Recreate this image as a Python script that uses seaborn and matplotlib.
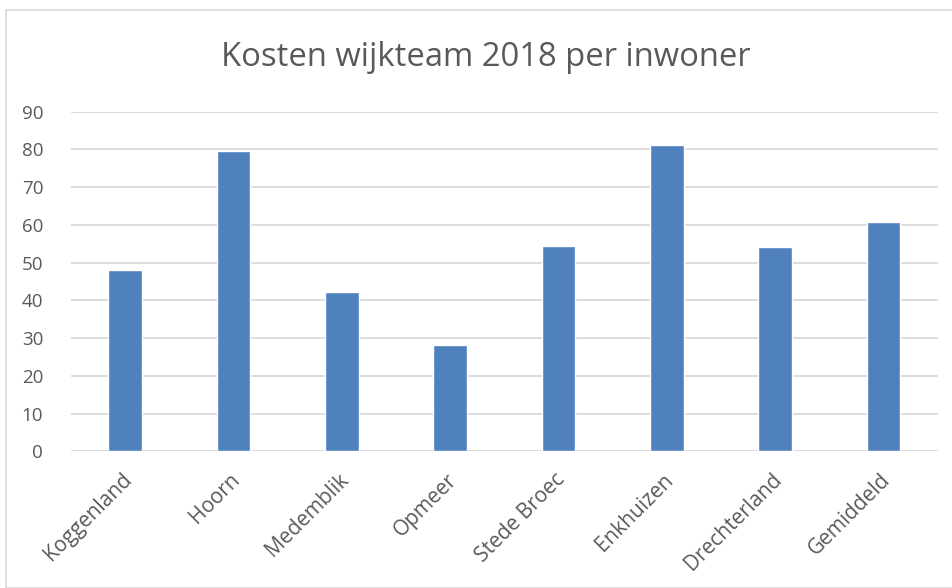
import matplotlib
matplotlib.use("Agg")
import matplotlib.pyplot as plt
import matplotlib.transforms as mtransforms
import seaborn as sns
import pandas as pd
from matplotlib.patches import Rectangle

# Data
gemeenten = ['Koggenland', 'Hoorn', 'Medemblik', 'Opmeer', 'Stede Broec',
             'Enkhuizen', 'Drechterland', 'Gemiddeld']
kosten = [48.0, 79.5, 42.3, 28.1, 54.4, 81.1, 54.1, 60.7]
y_ticks = [0, 10, 20, 30, 40, 50, 60, 70, 80, 90]

df = pd.DataFrame({'gemeente': gemeenten, 'kosten': kosten})

sns.set_style("white")
plt.rcParams['font.family'] = ['Open Sans', 'DejaVu Sans']

fig = plt.figure(figsize=(9.52, 5.88), dpi=100)
ax = fig.add_axes([0.0746, 0.2325, 0.9104, 0.5775])

sns.barplot(data=df, x='gemeente', y='kosten', color='#4f81bd',
            width=0.31, ax=ax, zorder=3, saturation=1)

ax.set_ylim(0, 90)
ax.set_yticks(y_ticks)
ax.set_xlim(-0.5, len(gemeenten) - 0.5)
ax.grid(axis='y', color='#d9d9d9', linewidth=1.3, zorder=0)
for s in ax.spines.values():
    s.set_visible(False)
ax.set_xlabel('')
ax.set_ylabel('')
ax.tick_params(axis='y', length=0, labelsize=13.5, labelcolor='#595959', pad=20)
ax.tick_params(axis='x', length=0, labelsize=15, labelcolor='#595959', pad=13)
# nudge rotated labels so they end near the bar centre, like Excel does
offset = mtransforms.ScaledTranslation(-3 / 72, 0, fig.dpi_scale_trans)
for lbl in ax.get_xticklabels():
    lbl.set_rotation(45)
    lbl.set_ha('right')
    lbl.set_rotation_mode('anchor')
    lbl.set_transform(lbl.get_transform() + offset)

fig.text(0.5105, 0.903, 'Kosten wijkteam 2018 per inwoner', ha='center', va='center',
         fontsize=23.6, color='#595959')

# light chart border
fig.patches.append(Rectangle((0.006, 0.0), 1.0, 0.983, transform=fig.transFigure,
                             fill=False, edgecolor='#d9d9d9', linewidth=1.2))

fig.savefig('out.png', dpi=100)
